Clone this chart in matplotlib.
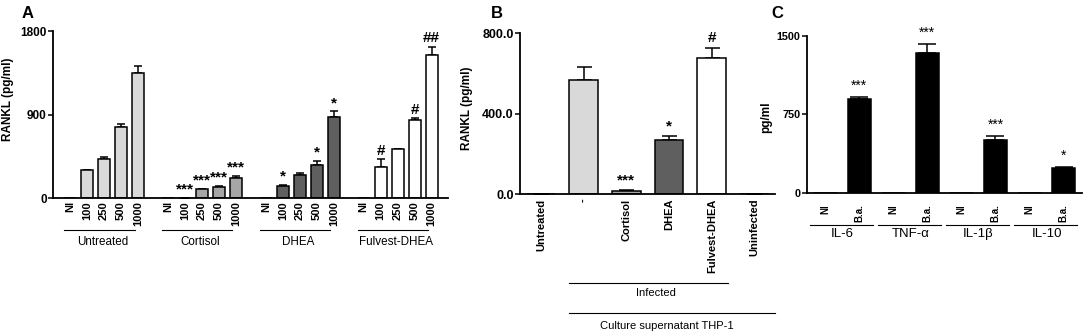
import numpy as np
import matplotlib.pyplot as plt
from matplotlib import transforms

plt.rcParams['font.family'] = ['Liberation Sans', 'DejaVu Sans']

# Panel A - RANKL by treatment and dose
a_groups = ['Untreated', 'Cortisol', 'DHEA', 'Fulvest-DHEA']
a_doses = ['NI', '100', '250', '500', '1000']
a_untreated = [0, 301, 419, 763, 1344]
a_untreated_err = [0, 5, 25, 36, 82]
a_cortisol = [0, 5, 100, 125, 218]
a_cortisol_err = [0, 0, 5, 6, 25]
a_dhea = [0, 135, 247, 355, 877]
a_dhea_err = [0, 7, 28, 43, 58]
a_fulvest = [0, 337, 530, 842, 1544]
a_fulvest_err = [0, 86, 0, 18, 86]
a_marks = [['', '', '', '', ''],
           ['', '***', '***', '***', '***'],
           ['', '*', '', '*', '*'],
           ['', '#', '', '#', '##']]
a_colors = ['#d9d9d9', '#a6a6a6', '#5f5f5f', 'white']

# Panel B - culture supernatant THP-1
b_labels = ['Untreated', '-', 'Cortisol', 'DHEA', 'Fulvest-DHEA', 'Uninfected']
b_values = [0, 568, 18, 268, 675, 3]
b_err = [0, 67, 4, 21, 54, 0]
b_marks = ['', '', '***', '*', '#', '']
b_colors = ['white', '#d9d9d9', '#a6a6a6', '#5f5f5f', 'white', 'white']

# Panel C - cytokines
c_cytokines = ['IL-6', 'TNF-α', 'IL-1β', 'IL-10']
c_conditions = ['NI', 'B.a.']
c_ni = [0, 0, 0, 0]
c_ba = [898, 1331, 507, 235]
c_ba_err = [19, 89, 38, 9]
c_marks = ['***', '***', '***', '*']

W, H = 1084, 335
fig = plt.figure(figsize=(W / 100, H / 100), dpi=100)


def box(left, right, top, bottom):
    return [left / W, 1 - bottom / H, (right - left) / W, (bottom - top) / H]


def style(ax, size=7.5, lw=1.3):
    for s in ['top', 'right']:
        ax.spines[s].set_visible(False)
    for s in ['left', 'bottom']:
        ax.spines[s].set_linewidth(lw)
    ax.tick_params(axis='y', length=3.5, width=1.1, labelsize=size, pad=1)
    ax.tick_params(axis='x', length=0)
    for t in ax.get_yticklabels():
        t.set_fontweight('bold')


# ---------------- A ----------------
axA = fig.add_axes(box(53, 448, 31, 198.3))
gap = 5.76
a_vals = [a_untreated, a_cortisol, a_dhea, a_fulvest]
a_errs = [a_untreated_err, a_cortisol_err, a_dhea_err, a_fulvest_err]
pos_all, lab_all = [], []
trA = transforms.blended_transform_factory(axA.transData, axA.transAxes)
for g in range(4):
    x = g * gap + np.arange(5)
    axA.bar(x, a_vals[g], width=0.7, color=a_colors[g], edgecolor='black', linewidth=1.1, zorder=2)
    axA.errorbar(x[1:], a_vals[g][1:], yerr=[np.zeros(4), a_errs[g][1:]], fmt='none',
                 ecolor='black', elinewidth=1.1, capsize=2.6, capthick=1.1, zorder=1)
    for i in range(5):
        if a_marks[g][i]:
            axA.annotate(a_marks[g][i], (x[i], a_vals[g][i] + a_errs[g][i]), xytext=(0, 1),
                         textcoords='offset points', ha='center', va='bottom',
                         fontsize=11, fontweight='bold')
    pos_all += list(x)
    lab_all += a_doses
    axA.plot([x[0] - 0.35, x[4] - 0.2], [-0.19, -0.19], color='black', lw=0.8,
             transform=trA, clip_on=False)
    axA.text(x[0] + 1.9, -0.26, a_groups[g], transform=trA, ha='center', va='center', fontsize=8.4)
axA.set_xticks(pos_all)
axA.set_xticklabels(lab_all, rotation=90, fontweight='bold', fontsize=8)
axA.tick_params(axis='x', pad=2)
axA.set_xlim(-1.0, 22.24)
axA.set_ylim(0, 1800)
axA.set_yticks([0, 900, 1800])
style(axA, size=8.5)

# ---------------- B ----------------
axB = fig.add_axes(box(520, 775, 33.3, 194.3))
xb = np.arange(len(b_labels))
axB.bar(xb, b_values, width=0.67, color=b_colors, edgecolor='black', linewidth=1.1, zorder=2)
axB.errorbar(xb, b_values, yerr=[np.zeros(len(xb)), b_err], fmt='none', ecolor='black',
             elinewidth=1.1, capsize=5.4, capthick=1.1, zorder=1)
for i, m in enumerate(b_marks):
    if m:
        axB.annotate(m, (xb[i], b_values[i] + b_err[i]), xytext=(0, 2), textcoords='offset points',
                     ha='center', va='bottom', fontsize=11, fontweight='bold')
axB.set_xticks(xb)
axB.set_xticklabels(b_labels, rotation=90, fontweight='bold', fontsize=8)
axB.tick_params(axis='x', pad=3)
axB.set_xlim(-0.49, 5.48)
axB.set_ylim(0, 800)
axB.set_yticks([0, 400, 800])
axB.set_yticklabels(['0.0', '400.0', '800.0'])
style(axB, size=9)
trB = transforms.blended_transform_factory(axB.transData, axB.transAxes)
axB.plot([0.66, 4.38], [-0.553, -0.553], color='black', lw=0.8, transform=trB, clip_on=False)
axB.text(2.7, -0.615, 'Infected', transform=trB, ha='center', va='center', fontsize=8)
axB.plot([0.66, 5.48], [-0.735, -0.735], color='black', lw=0.8, transform=trB, clip_on=False)
axB.text(2.95, -0.82, 'Culture supernatant THP-1', transform=trB, ha='center', va='center', fontsize=8)

# ---------------- C ----------------
axC = fig.add_axes(box(806.7, 1082, 35.7, 193))
trC = transforms.blended_transform_factory(axC.transData, axC.transAxes)
xc_ni = np.arange(4) * 2
xc_ba = xc_ni + 1
axC.bar(xc_ni, c_ni, width=0.67, color='black', edgecolor='black', linewidth=1.1, zorder=2)
axC.bar(xc_ba, c_ba, width=0.67, color='black', edgecolor='black', linewidth=1.1, zorder=2)
axC.errorbar(xc_ba, c_ba, yerr=[np.zeros(4), c_ba_err], fmt='none', ecolor='black',
             elinewidth=1.1, capsize=6.8, capthick=1.1, zorder=1)
for i, m in enumerate(c_marks):
    axC.annotate(m, (xc_ba[i], c_ba[i] + c_ba_err[i]), xytext=(0, 3), textcoords='offset points',
                 ha='center', va='bottom', fontsize=10)
    axC.plot([xc_ni[i] - 0.45, xc_ni[i] + 1.4], [-0.205, -0.205], color='black', lw=0.8,
             transform=trC, clip_on=False)
    axC.text(xc_ni[i] + 0.5, -0.26, c_cytokines[i], transform=trC, ha='center', va='center', fontsize=9.5)
axC.set_xticks(np.arange(8))
axC.set_xticklabels(c_conditions * 4, rotation=90, fontweight='bold', fontsize=7)
axC.tick_params(axis='x', pad=8)
axC.set_xlim(-0.54, 7.54)
axC.set_ylim(0, 1500)
axC.set_yticks([0, 750, 1500])
style(axC, size=7.8)

# axis titles and panel letters
fig.text(8 / W, 1 - 99 / H, 'RANKL (pg/ml)', rotation=90, ha='center', va='center',
         fontsize=8.5, fontweight='bold')
fig.text(467 / W, 1 - 108 / H, 'RANKL (pg/ml)', rotation=90, ha='center', va='center',
         fontsize=8.5, fontweight='bold')
fig.text(766 / W, 1 - 117 / H, 'pg/ml', rotation=90, ha='center', va='center',
         fontsize=8.5, fontweight='bold')
fig.text(22 / W, 1 - 6 / H, 'A', ha='left', va='top', fontsize=12, fontweight='bold')
fig.text(491 / W, 1 - 6 / H, 'B', ha='left', va='top', fontsize=12, fontweight='bold')
fig.text(771 / W, 1 - 6 / H, 'C', ha='left', va='top', fontsize=12, fontweight='bold')

fig.savefig('out.png', dpi=100)
